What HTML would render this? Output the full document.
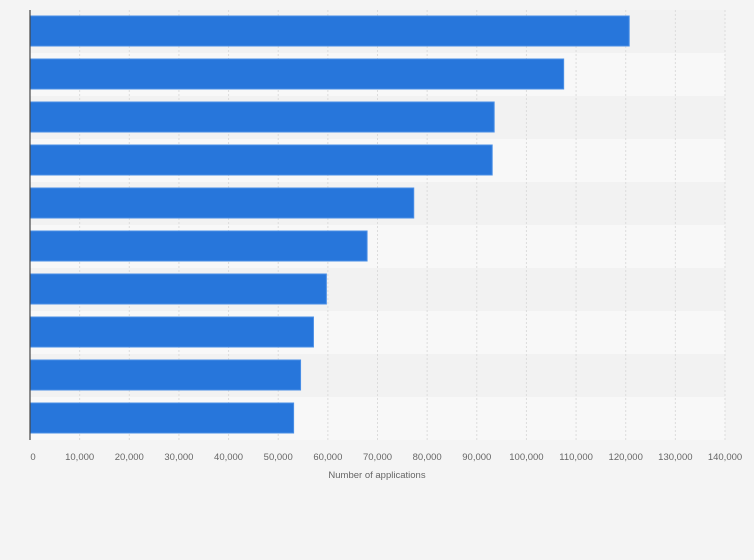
<!DOCTYPE html>
<html><head><meta charset="utf-8"><style>
body{margin:0;background:#f4f4f4;font-family:"Liberation Sans",sans-serif;}
svg{display:block}
</style></head><body>
<svg id="chart" width="754" height="560" xmlns="http://www.w3.org/2000/svg"></svg>
<script>
const categories=["Item 1","Item 2","Item 3","Item 4","Item 5","Item 6","Item 7","Item 8","Item 9","Item 10"];
const values=[120700,107500,93500,93100,77300,67900,59700,57100,54500,53100];
const ticks=[0,10000,20000,30000,40000,50000,60000,70000,80000,90000,100000,110000,120000,130000,140000];
const tickLabels=["0","10,000","20,000","30,000","40,000","50,000","60,000","70,000","80,000","90,000","100,000","110,000","120,000","130,000","140,000"];
const NS="http://www.w3.org/2000/svg";
const svgEl=document.getElementById('chart');
const x0=30,x1=725,plotTop=10,plotBottom=440,maxV=140000;
const xs=v=>x0+(v/maxV)*(x1-x0);
const rowH=(plotBottom-plotTop)/categories.length;
function mk(t,a){const e=document.createElementNS(NS,t);for(const k in a)e.setAttribute(k,a[k]);svgEl.appendChild(e);return e;}
categories.forEach((c,i)=>{
 const r=mk('rect',{x:x0,y:plotTop+i*rowH,width:x1-x0,height:rowH,fill:i%2?'#f8f8f8':'#f2f2f2'});
 
 
});
ticks.forEach((t,i)=>{
 if(i>0){const l=mk('line',{x1:xs(t),x2:xs(t),y1:plotTop,y2:plotBottom,stroke:'#dcdcdc','stroke-dasharray':'2,2'});
 
 }
 const tx=mk('text',{x:xs(t)+(i===0?3:0),y:460,'font-size':'9.5',fill:'#666','text-anchor':'middle'});
 tx.textContent=tickLabels[i];
 
 
});
values.forEach((v,i)=>{
 const b=mk('rect',{x:x0,y:plotTop+i*rowH+6,width:xs(v)-x0,height:rowH-13,fill:'#2776db',stroke:'#4a8fe6','stroke-width':'1'});
 
 
});
const ax=mk('line',{x1:x0,x2:x0,y1:plotTop,y2:plotBottom,stroke:'#444','stroke-width':'1.2'});


const tt=mk('text',{x:377,y:478,'font-size':'9.5',fill:'#666','text-anchor':'middle'});
tt.textContent='Number of applications';


</script>
</body></html>
